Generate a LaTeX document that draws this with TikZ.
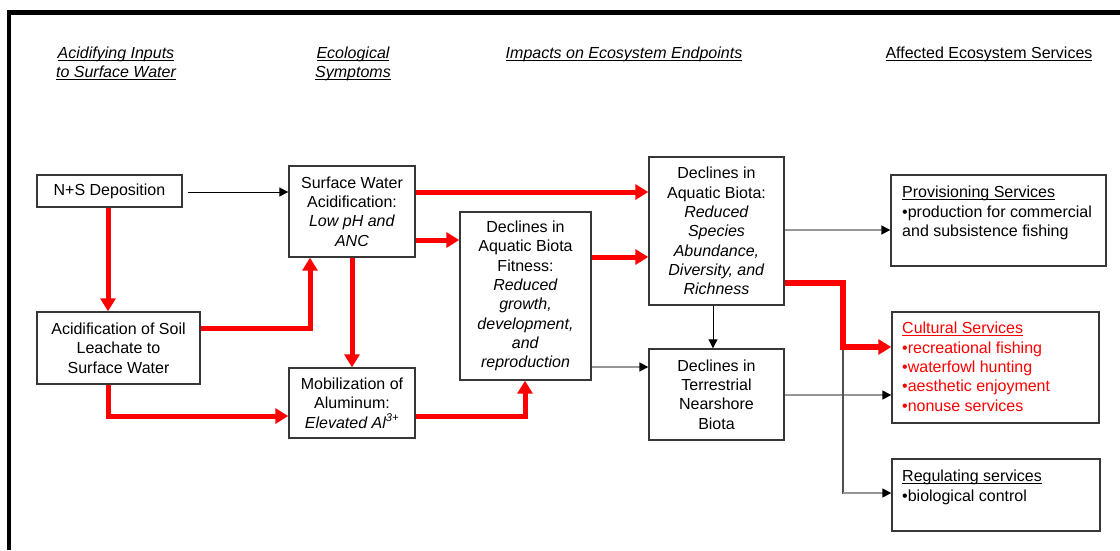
\documentclass[tikz,border=0pt]{standalone}
\usepackage{fontspec}
\setmainfont{Liberation Sans}
\usetikzlibrary{arrows.meta}
\definecolor{myred}{RGB}{255,0,0}
\definecolor{lgray}{RGB}{150,150,150}
\definecolor{dgray}{RGB}{80,80,80}
\definecolor{bx}{RGB}{55,55,55}
\newsavebox\myulbox
\newcommand\myul[1]{\sbox\myulbox{#1}\rlap{\rule[-2.6pt]{\wd\myulbox}{1.1pt}}\usebox\myulbox}
\begin{document}
\begin{tikzpicture}[x=1pt,y=-1pt,
  font=\fontsize{16}{19.3}\selectfont,
  box/.style={draw=bx, line width=1.4pt, align=center, inner sep=0pt},
  hdr/.style={anchor=base, inner sep=0pt},
  svctext/.style={anchor=north west, align=left, inner sep=0pt},
  redarr/.style={draw=myred, line width=5pt, -{Triangle[length=13pt,width=15pt]}},
  thinarr/.style={draw=black, line width=1pt, -{Triangle[length=9pt,width=9pt]}},
  grayarr/.style={draw=lgray, line width=1.5pt, -{Triangle[length=9pt,width=9pt,color=black]}}
]
\useasboundingbox (0,0) rectangle (1120,550);
% frame
\draw[line width=4.5pt] (9,550) -- (9,12.5) -- (1120,12.5);

% headers
\node[hdr] (h1a) at (116,58.5) {\itshape\myul{Acidifying Inputs}};
\node[hdr] (h1b) at (116,77.5) {\itshape\myul{to Surface Water}};
\node[hdr] (h2a) at (353,58.5) {\itshape\myul{Ecological}};
\node[hdr] (h2b) at (353,77.5) {\itshape\myul{Symptoms}};
\node[hdr] (h3) at (624,58.5) {\itshape\myul{Impacts on Ecosystem Endpoints}};
\node[hdr] (h4) at (989,58.5) {\myul{Affected Ecosystem Services}};

% boxes
\node[box, minimum width=145pt, minimum height=32pt] (nsd) at (109.5,191) {N+S Deposition};
\node[box, minimum width=163pt, minimum height=72pt] (soil) at (118.5,348) {Acidification of Soil\\Leachate to\\Surface Water};
\node[box, minimum width=126pt, minimum height=91pt] (swa) at (352,211.5) {Surface Water\\Acidification:\\\textit{Low pH and}\\\textit{ANC}};
\node[box, minimum width=126pt, minimum height=70pt] (mob) at (352,403) {Mobilization of\\Aluminum:\\\textit{Elevated Al\textsuperscript{3+}}};
\node[box, minimum width=131pt, minimum height=168pt] (fit) at (525.5,296) {Declines in\\Aquatic Biota\\Fitness:\\\textit{Reduced}\\\textit{growth,}\\\textit{development,}\\\textit{and}\\\textit{reproduction}};
\node[box, minimum width=135pt, minimum height=148pt] (spec) at (716.5,231) {Declines in\\Aquatic Biota:\\\textit{Reduced}\\\textit{Species}\\\textit{Abundance,}\\\textit{Diversity, and}\\\textit{Richness}};
\node[box, minimum width=135pt, minimum height=91pt] (terr) at (716.5,394.5) {Declines in\\Terrestrial\\Nearshore\\Biota};
\node[box, minimum width=215pt, minimum height=91pt] (prov) at (998.5,220.5) {};
\node[box, minimum width=207pt, minimum height=111pt] (cult) at (995.5,367.5) {};
\node[box, minimum width=208pt, minimum height=72pt] (reg) at (996,495) {};

% service texts
\node[svctext] (provt) at (902,186) {\myul{Provisioning Services}\\•production for commercial\\and subsistence fishing};
\node[svctext, text=myred] (cultt) at (902,322) {\myul{Cultural Services}\\•recreational fishing\\•waterfowl hunting\\•aesthetic enjoyment\\•nonuse services};
\node[svctext] (regt) at (902,470) {\myul{Regulating services}\\•biological control};

% helper levels
\coordinate (y192) at (0,192);
\coordinate (y240) at (0,240);
\coordinate (y257) at (0,257);
\coordinate (y230) at (0,230);
\coordinate (y283) at (0,283);
\coordinate (y328) at (0,328);
\coordinate (y367) at (0,367);
\coordinate (y395) at (0,395);
\coordinate (y416) at (0,416);
\coordinate (y493) at (0,493);
\coordinate (x108) at (108,0);
\coordinate (x310) at (310,0);
\coordinate (x525) at (525,0);
\coordinate (x713) at (713,0);
\coordinate (bend) at (843,347);

% connectors
\draw[thinarr, shorten <=5pt] (nsd.east |- y192) -- (swa.west |- y192);
\draw[redarr] (nsd.south -| x108) -- (soil.north -| x108);
\draw[redarr] (soil.east |- y328) -| (swa.south -| x310);
\draw[redarr] (soil.south -| x108) |- (mob.west |- y416);
\draw[redarr] (swa.south) -- (mob.north);
\draw[redarr] (swa.east |- y192) -- (spec.west |- y192);
\draw[redarr] (swa.east |- y240) -- (fit.west |- y240);
\draw[redarr] (mob.east |- y416) -| (fit.south -| x525);
\draw[redarr] (fit.east |- y257) -- (spec.west |- y257);
\draw[grayarr] (fit.east |- y367) -- (terr.west |- y367);
\draw[thinarr] (spec.south -| x713) -- (terr.north -| x713);
\draw[grayarr] (spec.east |- y230) -- (prov.west |- y230);
\draw[grayarr] (terr.east |- y395) -- (cult.west |- y395);
\draw[dgray, line width=1.5pt] (bend) -- ([yshift=-0.75pt]bend |- y493);
\draw[grayarr] (bend |- y493) -- (reg.west |- y493);
\draw[redarr, line width=6pt] (spec.east |- y283) -| (bend) -- (cult.west |- bend);
\end{tikzpicture}
\end{document}
